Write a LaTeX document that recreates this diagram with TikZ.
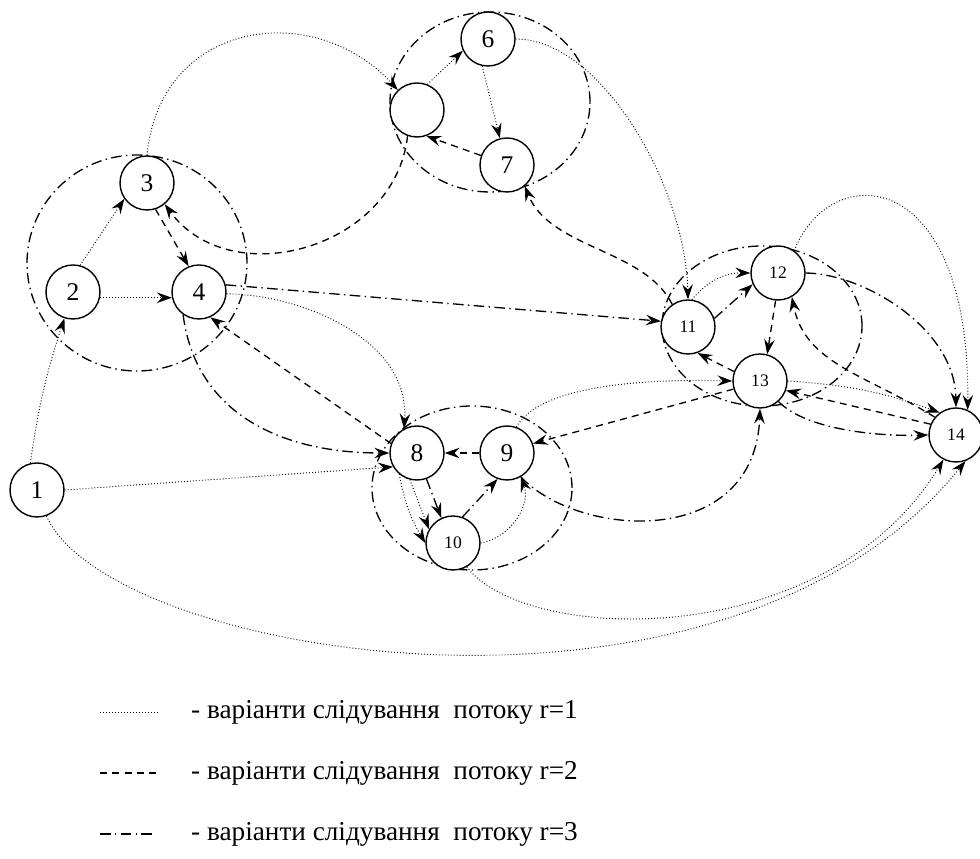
\documentclass[tikz,border=0pt]{standalone}
\usepackage{fontspec}
\setmainfont{Liberation Serif}
\usetikzlibrary{arrows.meta}
\begin{document}
\begin{tikzpicture}[
		vert/.style={circle, draw, line width=0.8pt, fill=white, minimum size=1.08cm, inner sep=0pt, font=\fontsize{14.5}{14.5}\selectfont},
		vsmall/.style={vert, font=\fontsize{10}{10}\selectfont},
		tip/.style={-{Stealth[length=8.5pt, width=6pt, inset=3pt]}},
		rone/.style={line width=0.55pt, dash pattern=on 0.5pt off 1.2pt},
		rtwo/.style={line width=0.75pt, dash pattern=on 4pt off 3pt},
		rthree/.style={line width=0.75pt, dash pattern=on 6pt off 2.5pt on 0.8pt off 2.5pt},
		legtext/.style={anchor=west, font=\fontsize{15.5}{15.5}\selectfont}
	]
		\useasboundingbox (0,0) rectangle (19.6,17.18);
		\draw[rthree] (2.74,11.92) ellipse [x radius=2.2, y radius=2.16];
		\draw[rthree] (9.8,15.14) ellipse [x radius=2.0, y radius=1.8];
		\draw[rthree] (9.44,7.42) ellipse [x radius=2.0, y radius=1.64];
		\draw[rthree] (15.24,10.66) ellipse [x radius=2.0, y radius=1.6];
		\node[vert] (n1) at (0.74,7.38) {1};
		\node[vert] (n2) at (1.46,11.34) {2};
		\node[vert] (n3) at (2.94,13.52) {3};
		\node[vert] (n4) at (3.98,11.34) {4};
		\node[vert] (n5) at (8.34,14.98) {};
		\node[vert] (n6) at (9.76,16.40) {6};
		\node[vert] (n7) at (10.14,13.88) {7};
		\node[vert] (n8) at (8.34,8.12) {8};
		\node[vert] (n9) at (10.14,8.12) {9};
		\node[vsmall] (n10) at (9.06,6.32) {10};
		\node[vsmall] (n11) at (13.76,10.64) {11};
		\node[vsmall] (n12) at (15.56,11.72) {12};
		\node[vsmall] (n13) at (15.20,9.56) {13};
		\node[vsmall] (n14) at (19.12,8.48) {14};
		\draw[rone, tip] (n1.104) to[bend left=5] (n2.252);
		\draw[rone, tip] (n2.75) -- (n3.215);
		\draw[rone, tip] (n2.-12) -- (n4.192);
		\draw[rone, tip] (n3.90) .. controls (3.2,16.8) and (6.3,17.2) .. (n5.134);
		\draw[rone, tip] (n5.68) -- (n6.205);
		\draw[rone, tip] (n6.258) -- (n7.105);
		\draw[rone, tip] (n6.0) .. controls (12.0,16.4) and (13.7,13.5) .. (n11.90);
		\draw[rone, tip] (n11.82) to[bend left=25] (n12.180);
		\draw[rone, tip] (n4.-4) .. controls (6.0,11.3) and (8.2,10.4) .. (n8.118);
		\draw[rone, tip] (n1.0) -- (n8.210);
		\draw[rone, tip] (n1.-70) .. controls (2.2,4.0) and (14.5,2.0) .. (n14.-70);
		\draw[rone, tip] (n10.-60) .. controls (10.5,4.3) and (16.5,4.1) .. (n14.-117);
		\draw[rone, tip] (n8.230) to[bend right=10] (n10.180);
		\draw[rone, tip] (n8.255) -- (n10.150);
		\draw[rone, tip] (n10.0) to[out=10, in=-70] (n9.-60);
		\draw[rone, tip] (n9.70) .. controls (10.8,9.5) and (13.0,9.6) .. (n13.180);
		\draw[rone, tip] (n13.0) to[bend left=8] (n14.126);
		\draw[rone, tip] (n12.54) .. controls (16.6,14.0) and (19.4,13.9) .. (n14.65);
		\draw[rtwo, tip] (n3.-72) -- (n4.112);
		\draw[rtwo, tip] (n5.250) .. controls (7.9,12.2) and (4.6,11.3) .. (n3.-50);
		\draw[rtwo, tip] (n7.160) -- (n5.-70);
		\draw[rtwo, tip] (n11.125) .. controls (12.9,12.2) and (11.0,12.2) .. (n7.-50);
		\draw[rtwo, tip] (n13.160) -- (n11.-70);
		\draw[rtwo, tip] (n13.197) -- (n9.20);
		\draw[rtwo, tip] (n9.180) -- (n8.0);
		\draw[rtwo, tip] (n8.160) -- (n4.-66);
		\draw[rtwo, tip] (n14.157) -- (n13.-20);
		\draw[rtwo, tip] (n14.140) .. controls (17.3,9.7) and (16.1,9.9) .. (n12.-60);
		\draw[rtwo, tip] (n12.265) -- (n13.75);
		\draw[rthree, tip] (n4.15) -- (n11.168);
		\draw[rthree, tip] (n4.235) .. controls (3.9,9.0) and (5.5,8.12) .. (n8.180);
		\draw[rthree, tip] (n8.290) -- (n10.115);
		\draw[rthree, tip] (n10.70) -- (n9.250);
		\draw[rthree, tip] (n9.-60) .. controls (11.6,6.4) and (15.1,6.2) .. (n13.270);
		\draw[rthree, tip] (n13.-48) .. controls (16.1,8.6) and (17.5,8.45) .. (n14.180);
		\draw[rthree, tip] (n12.0) .. controls (17.3,11.7) and (19.1,10.6) .. (n14.90);
		\draw[rthree, tip] (n11.18) -- (n12.204);
		\draw[rone] (2.0,2.94) -- (3.16,2.94);
		\draw[rtwo] (2.0,1.72) -- (3.2,1.72);
		\draw[rthree] (2.0,0.50) -- (3.1,0.50);
		\node[legtext] (lg1) at (3.7,2.94) {- варіанти слідування~ потоку r=1};
		\node[legtext] (lg2) at (3.7,1.72) {- варіанти слідування~ потоку r=2};
		\node[legtext] (lg3) at (3.7,0.50) {- варіанти слідування~ потоку r=3};
	\end{tikzpicture}
\end{document}
